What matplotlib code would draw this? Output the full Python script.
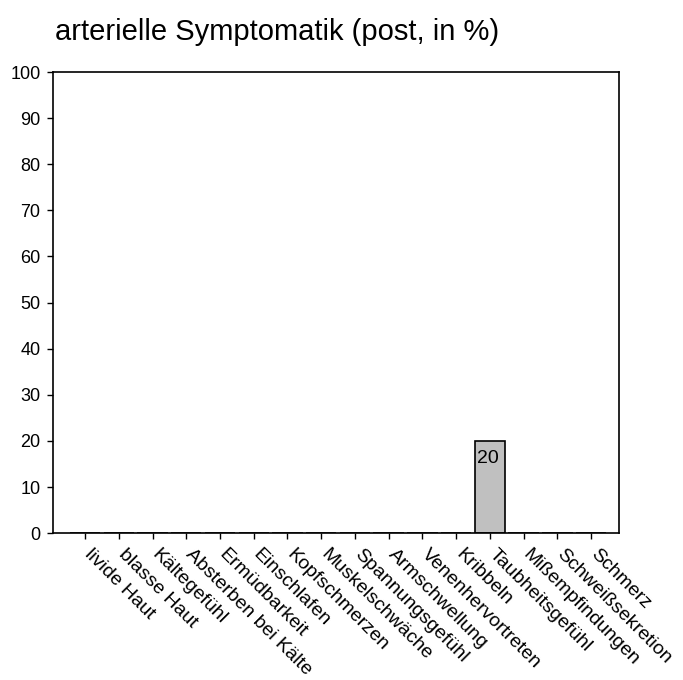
import numpy as np
import matplotlib
matplotlib.use("Agg")
import matplotlib.pyplot as plt
from matplotlib.transforms import ScaledTranslation

plt.rcParams['font.family'] = ['Liberation Sans', 'DejaVu Sans']

titel = "arterielle Symptomatik (post, in %)"
symptome = ["livide Haut", "blasse Haut", "Kältegefühl", "Absterben bei Kälte",
            "Ermüdbarkeit", "Einschlafen", "Kopfschmerzen", "Muskelschwäche",
            "Spannungsgefühl", "Armschwellung", "Venenhervortreten", "Kribbeln",
            "Taubheitsgefühl", "Mißempfindungen", "Schweißsekretion", "Schmerz"]
werte = [0, 0, 0, 0, 0, 0, 0, 0, 0, 0, 0, 0, 20, 0, 0, 0]
y_ticks = list(range(0, 101, 10))

fig = plt.figure(figsize=(6.83, 6.80), dpi=100)
ax = fig.add_axes([0.0776, 0.216, 0.9064 - 0.0776, 0.894 - 0.216])

x = np.arange(len(symptome))
balken = ax.bar(x, werte, width=0.9, color="#c0c0c0", edgecolor="black", linewidth=1.2)

for xi, w in zip(x, werte):
    if w > 0:
        ax.text(xi - 0.05, w - 2.0, str(w), ha="center", va="top", fontsize=14)

ax.set_xlim(-0.95, 15.83)
ax.set_ylim(0, 100)
ax.set_yticks(y_ticks)
ax.set_xticks(x)
ax.set_xticklabels(symptome, rotation=-45, ha="left", va="top",
                   rotation_mode="anchor", fontsize=14)
ax.tick_params(axis="y", labelsize=13, length=4, width=1, direction="out", pad=5)
ax.tick_params(axis="x", length=4, width=1, direction="out", pad=5)

# Beschriftungen etwas nach rechts schieben
versatz = ScaledTranslation(8 / 100, 0, fig.dpi_scale_trans)
for lab in ax.get_xticklabels():
    lab.set_transform(lab.get_transform() + versatz)

for s in ax.spines.values():
    s.set_linewidth(1.2)

fig.text(55 / 683, 1 - 40 / 680, titel, fontsize=21, ha="left", va="baseline")

fig.savefig("out.png", dpi=100)
